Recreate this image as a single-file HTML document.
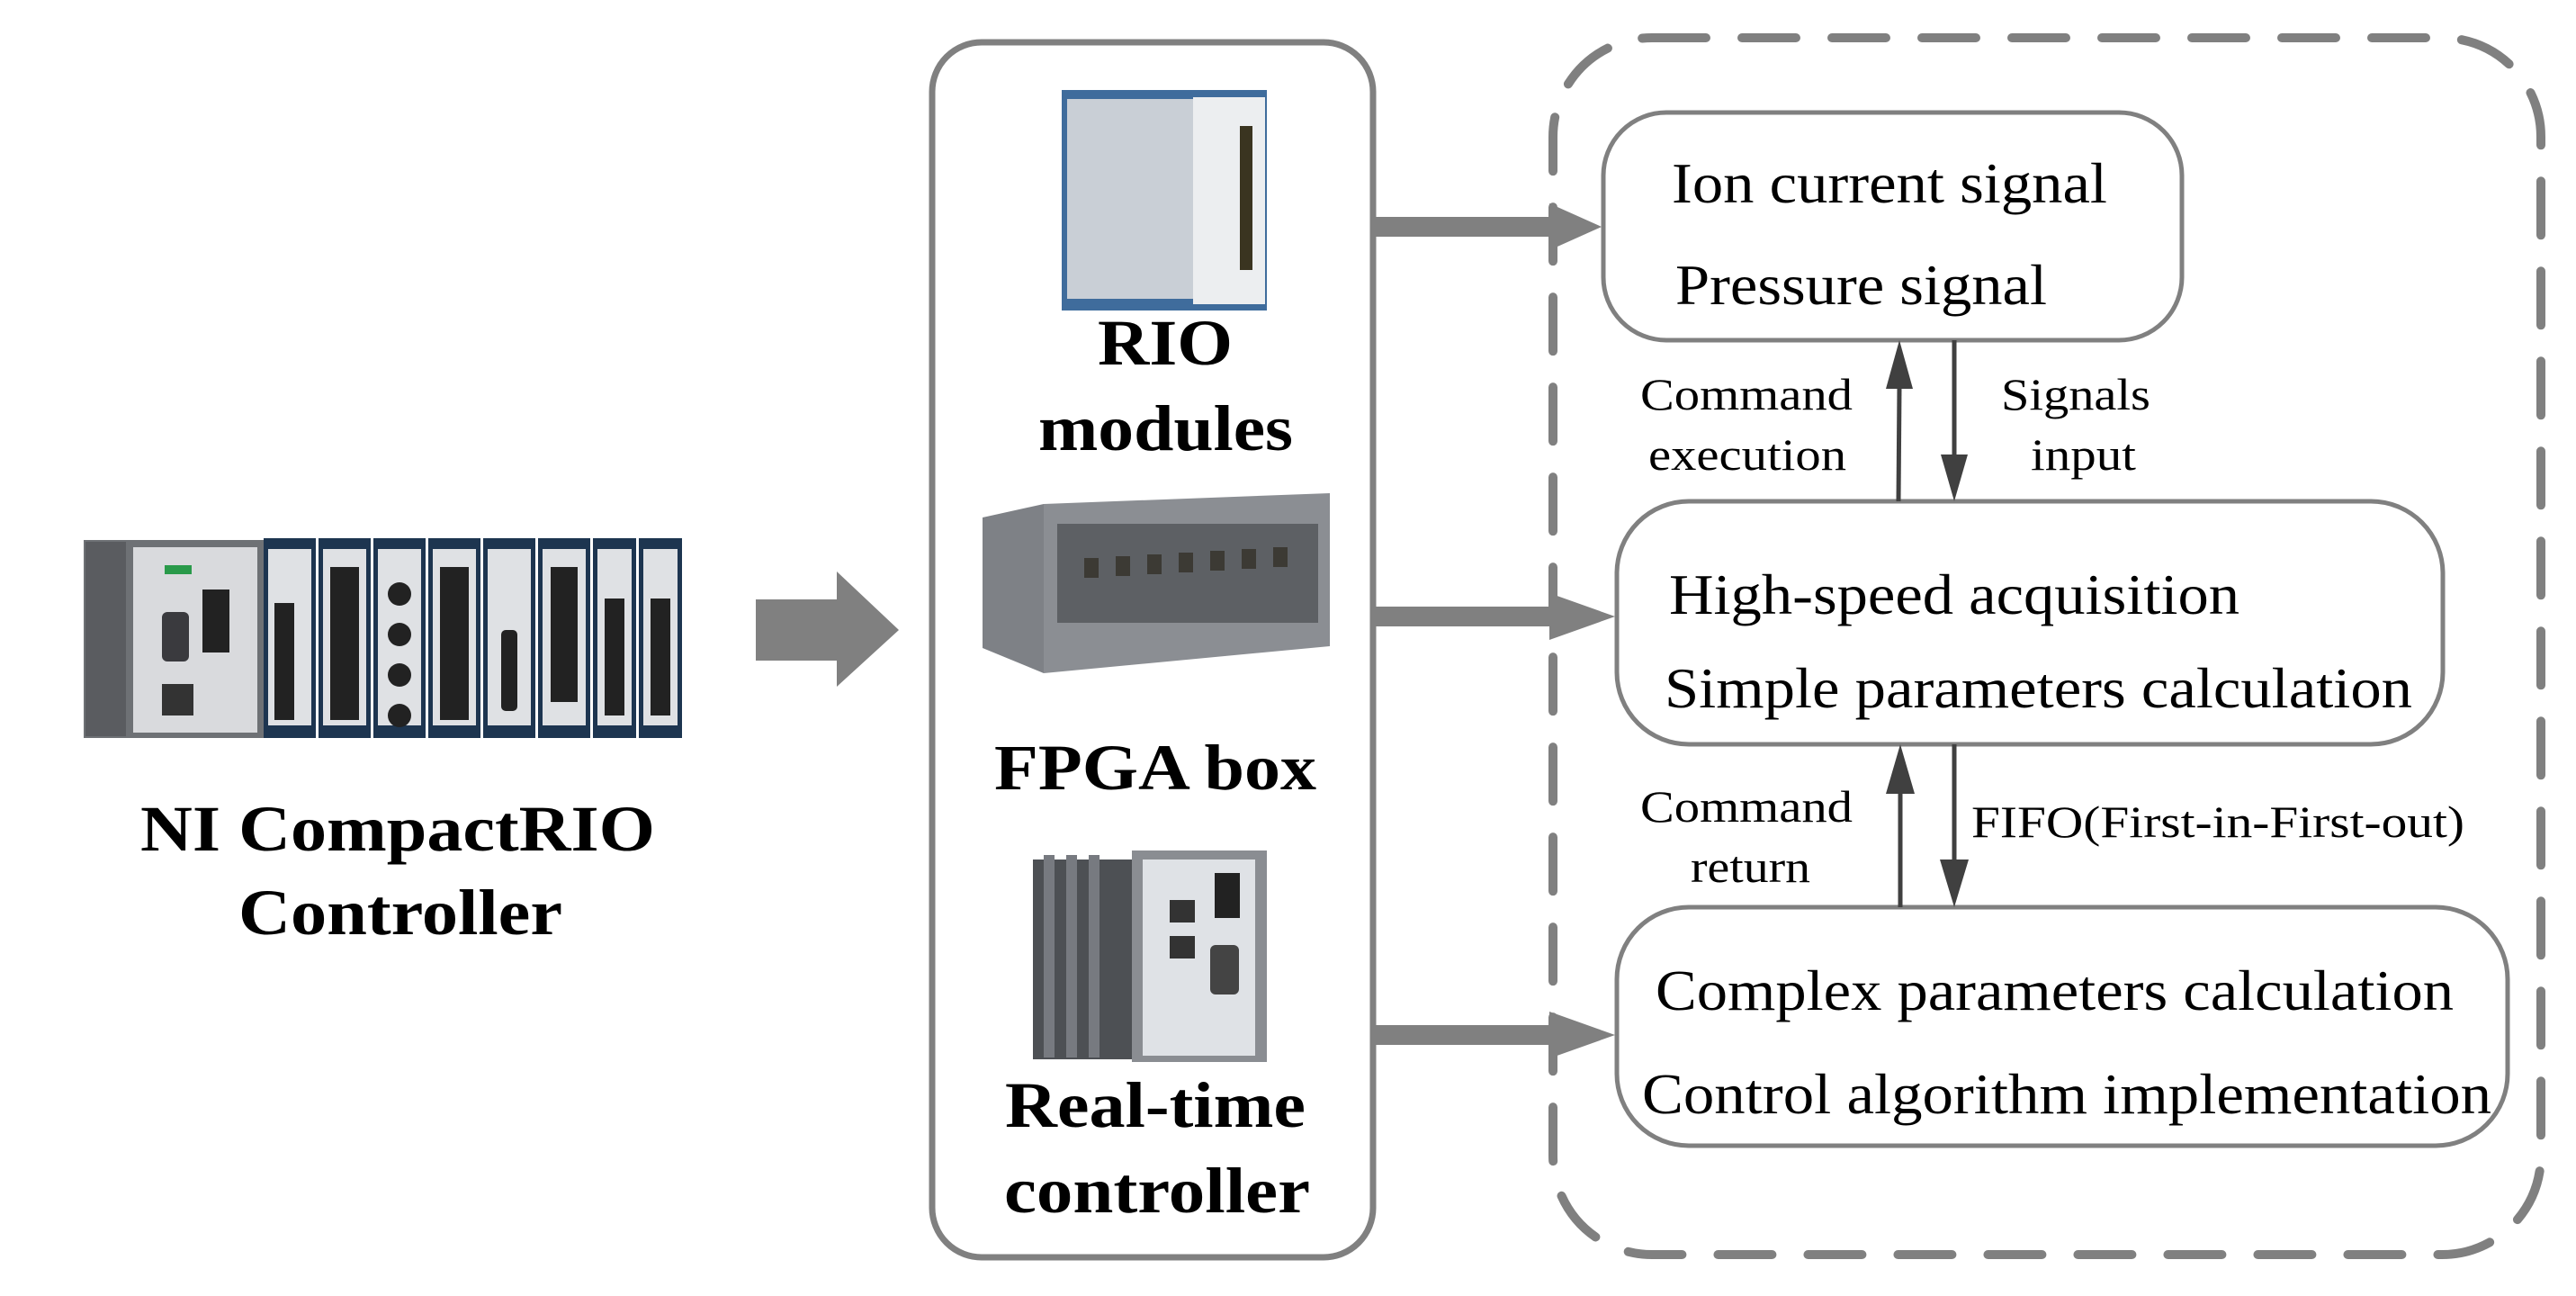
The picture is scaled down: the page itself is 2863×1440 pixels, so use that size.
<!DOCTYPE html>
<html><head><meta charset="utf-8"><style>
html,body{margin:0;padding:0;background:#fff;}
svg{display:block;}
.b{font-family:"Liberation Serif",serif;font-weight:bold;fill:#000;}
.r{font-family:"Liberation Serif",serif;fill:#000;}
</style></head><body>
<svg width="2863" height="1440" viewBox="0 0 2863 1440" xmlns="http://www.w3.org/2000/svg">
<!-- Controller image -->
<g>
<rect x="93" y="600" width="200" height="220" fill="#6e7175"/>
<rect x="95" y="602" width="45" height="216" fill="#5a5c60"/>
<rect x="148" y="608" width="138" height="206" fill="#d9dadd"/>
<rect x="180" y="680" width="30" height="55" rx="6" fill="#3a3a3e"/>
<rect x="225" y="655" width="30" height="70" fill="#222"/>
<rect x="180" y="760" width="35" height="35" fill="#333"/>
<rect x="183" y="628" width="30" height="10" fill="#2a9a4a"/>
<g fill="#1d3550">
<rect x="293" y="598" width="58" height="222"/><rect x="354" y="598" width="58" height="222"/>
<rect x="415" y="598" width="58" height="222"/><rect x="476" y="598" width="58" height="222"/>
<rect x="537" y="598" width="58" height="222"/><rect x="598" y="598" width="58" height="222"/>
<rect x="659" y="598" width="48" height="222"/><rect x="710" y="598" width="48" height="222"/>
</g>
<g fill="#dfe1e4">
<rect x="298" y="610" width="48" height="196"/><rect x="359" y="610" width="48" height="196"/>
<rect x="420" y="610" width="48" height="196"/><rect x="481" y="610" width="48" height="196"/>
<rect x="542" y="610" width="48" height="196"/><rect x="603" y="610" width="48" height="196"/>
<rect x="664" y="610" width="38" height="196"/><rect x="715" y="610" width="38" height="196"/>
</g>
<g fill="#222">
<rect x="305" y="670" width="22" height="130"/><rect x="367" y="630" width="32" height="170"/>
<circle cx="444" cy="660" r="13"/><circle cx="444" cy="705" r="13"/><circle cx="444" cy="750" r="13"/><circle cx="444" cy="795" r="13"/>
<rect x="489" y="630" width="32" height="170"/><rect x="557" y="700" width="18" height="90" rx="5"/>
<rect x="612" y="630" width="30" height="150"/><rect x="672" y="665" width="22" height="130"/><rect x="723" y="665" width="22" height="130"/>
</g>
</g>
<text class="b" x="156" y="945" font-size="72" textLength="572" lengthAdjust="spacingAndGlyphs">NI CompactRIO</text>
<text class="b" x="265" y="1038" font-size="72" textLength="360" lengthAdjust="spacingAndGlyphs">Controller</text>
<!-- Big arrow -->
<polygon points="840,666 930,666 930,635 999,700 930,763 930,734 840,734" fill="#808080"/>
<!-- middle box -->
<rect x="1036" y="47" width="490" height="1350" rx="55" fill="none" stroke="#808080" stroke-width="7"/>
<!-- RIO module image -->
<g>
<rect x="1180" y="100" width="228" height="245" fill="#3f6c9c"/>
<rect x="1186" y="110" width="140" height="222" fill="#c9cfd6"/>
<rect x="1326" y="108" width="80" height="230" fill="#eceef0"/>
<rect x="1378" y="140" width="14" height="160" fill="#3a3420"/>
</g>
<text class="b" x="1220" y="405" font-size="72" textLength="150" lengthAdjust="spacingAndGlyphs">RIO</text>
<text class="b" x="1154" y="500" font-size="72" textLength="283" lengthAdjust="spacingAndGlyphs">modules</text>
<!-- FPGA box -->
<g>
<polygon points="1092,575 1160,560 1160,748 1092,720" fill="#7e8186"/>
<polygon points="1160,560 1478,548 1478,718 1160,748" fill="#8b8e93"/>
<rect x="1175" y="582" width="290" height="110" fill="#5d6064"/>
<g fill="#3c3a34"><rect x="1205" y="620" width="16" height="22"/><rect x="1240" y="618" width="16" height="22"/><rect x="1275" y="616" width="16" height="22"/><rect x="1310" y="614" width="16" height="22"/><rect x="1345" y="612" width="16" height="22"/><rect x="1380" y="610" width="16" height="22"/><rect x="1415" y="608" width="16" height="22"/></g>
</g>
<text class="b" x="1105" y="877" font-size="72" textLength="358" lengthAdjust="spacingAndGlyphs">FPGA box</text>
<!-- RT controller -->
<g>
<rect x="1148" y="955" width="110" height="222" fill="#4d5054"/>
<g fill="#777a80"><rect x="1160" y="950" width="12" height="225"/><rect x="1185" y="950" width="12" height="225"/><rect x="1210" y="950" width="12" height="225"/></g>
<rect x="1258" y="945" width="150" height="235" fill="#8a8d92"/>
<rect x="1270" y="955" width="125" height="218" fill="#dfe2e6"/>
<rect x="1300" y="1000" width="28" height="25" fill="#333"/><rect x="1300" y="1040" width="28" height="25" fill="#333"/>
<rect x="1350" y="970" width="28" height="50" fill="#222"/><rect x="1345" y="1050" width="32" height="55" rx="6" fill="#444"/>
</g>
<text class="b" x="1117" y="1252" font-size="72" textLength="334" lengthAdjust="spacingAndGlyphs">Real-time</text>
<text class="b" x="1116" y="1347" font-size="72" textLength="340" lengthAdjust="spacingAndGlyphs">controller</text>
<!-- arrows to right -->
<g fill="#808080">
<polygon points="1527,241 1722,241 1722,226 1780,252 1722,278 1722,263 1527,263"/>
<polygon points="1527,674 1722,674 1722,659 1795,685 1722,711 1722,696 1527,696"/>
<polygon points="1527,1139 1722,1139 1722,1124 1795,1150 1722,1176 1722,1161 1527,1161"/>
</g>
<!-- dashed box -->
<rect x="1726" y="42" width="1098" height="1352" rx="110" fill="none" stroke="#808080" stroke-width="10" stroke-dasharray="60,40" stroke-linecap="round"/>
<!-- inner boxes -->
<g fill="none" stroke="#808080" stroke-width="5">
<rect x="1782" y="125" width="643" height="253" rx="70"/>
<rect x="1797" y="557" width="918" height="270" rx="80"/>
<rect x="1797" y="1008" width="990" height="265" rx="80"/>
</g>
<g class="r" font-size="64">
<text x="1858" y="225" textLength="484" lengthAdjust="spacingAndGlyphs">Ion current signal</text>
<text x="1862" y="338" textLength="413" lengthAdjust="spacingAndGlyphs">Pressure signal</text>
<text x="1855" y="682" textLength="634" lengthAdjust="spacingAndGlyphs">High-speed acquisition</text>
<text x="1850" y="786" textLength="831" lengthAdjust="spacingAndGlyphs">Simple parameters calculation</text>
<text x="1840" y="1122" textLength="887" lengthAdjust="spacingAndGlyphs">Complex parameters calculation</text>
<text x="1825" y="1237" textLength="944" lengthAdjust="spacingAndGlyphs">Control algorithm implementation</text>
</g>
<!-- vertical arrows -->
<g stroke="#404040" stroke-width="5" fill="#404040">
<line x1="2110" y1="557" x2="2111" y2="430"/>
<polygon points="2096,432 2126,432 2111,378" stroke="none"/>
<line x1="2172" y1="378" x2="2172" y2="510"/>
<polygon points="2157,505 2187,505 2172,557" stroke="none"/>
<line x1="2112" y1="1008" x2="2112" y2="880"/>
<polygon points="2096,882 2128,882 2112,827" stroke="none"/>
<line x1="2172" y1="827" x2="2172" y2="960"/>
<polygon points="2156,955 2188,955 2172,1008" stroke="none"/>
</g>
<g class="r" font-size="50">
<text x="1823" y="455" textLength="236" lengthAdjust="spacingAndGlyphs">Command</text>
<text x="1832" y="522" textLength="220" lengthAdjust="spacingAndGlyphs">execution</text>
<text x="2224" y="455" textLength="166" lengthAdjust="spacingAndGlyphs">Signals</text>
<text x="2257" y="522" textLength="117" lengthAdjust="spacingAndGlyphs">input</text>
<text x="1823" y="913" textLength="236" lengthAdjust="spacingAndGlyphs">Command</text>
<text x="1879" y="980" textLength="133" lengthAdjust="spacingAndGlyphs">return</text>
</g>
<text class="r" x="2191" y="930" font-size="50" textLength="548" lengthAdjust="spacingAndGlyphs">FIFO(First-in-First-out)</text>
</svg>
</body></html>
